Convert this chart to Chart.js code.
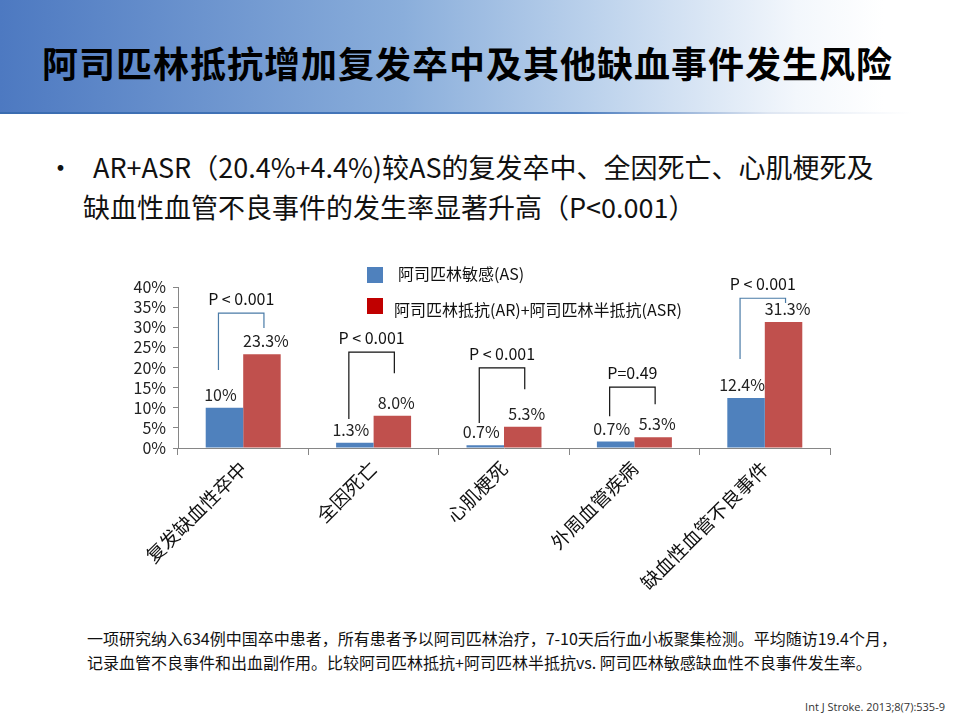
<!DOCTYPE html>
<html>
<head>
<meta charset="utf-8">
<script src="https://cdn.jsdelivr.net/npm/chart.js@4"></script>
<style>
  html, body { margin: 0; padding: 0; background: #fff; }
  body { width: 960px; height: 720px; position: relative; overflow: hidden; font-family: "Noto Sans CJK SC", "Noto Sans", sans-serif; color: #111; }
  .header { position: absolute; left: 0; top: 0; width: 960px; height: 112px;
    background: linear-gradient(to right, #4d79c1 0%, #8aaedb 42%, #bcd2ec 62%, #f3f7fc 83%, #ffffff 92%); }
  .header-line { position: absolute; left: 0; top: 112px; width: 960px; height: 2px;
    background: linear-gradient(to right, #3a6cb0 0%, #4a7bbd 60%, rgba(90,130,190,0.2) 80%, rgba(255,255,255,0) 95%); }
  .title { position: absolute; left: 42px; top: 40px; height: 44px; line-height: 44px; font-size: 36px; font-weight: 700; letter-spacing: 1px; color: #000; white-space: nowrap; }
  .bullet { position: absolute; left: 83px; top: 147px; width: 870px; font-size: 27px; line-height: 40px; color: #111; }
  .bullet .dot { position: absolute; left: -36px; top: 0; }
  .bullet .l1 { padding-left: 10px; white-space: nowrap; }
  .bullet .l2 { white-space: nowrap; }
  .legend { position: absolute; font-size: 16px; color: #111; white-space: nowrap; }
  .legend .sw { position: absolute; width: 16px; height: 16px; }
  .chart-box { position: absolute; left: 100px; top: 270px; width: 740px; height: 350px; }
  .note { position: absolute; left: 87px; top: 626px; font-size: 16px; line-height: 24px; color: #111; white-space: nowrap; }
  .cite { position: absolute; right: 15px; top: 699px; font-size: 11px; line-height: 16px; color: #333; font-family: "Open Sans", "Noto Sans", sans-serif; }
</style>
</head>
<body>
<div class="header"></div>
<div class="header-line"></div>
<div class="title">阿司匹林抵抗增加复发卒中及其他缺血事件发生风险</div>

<div class="bullet">
  <span class="dot">•</span>
  <div class="l1">AR+ASR（20.4%+4.4%)较AS的复发卒中、全因死亡、心肌梗死及</div>
  <div class="l2">缺血性血管不良事件的发生率显著升高（P&lt;0.001）</div>
</div>

<div class="chart-box"><canvas id="riskChart"></canvas></div>

<div class="legend" style="left:367px;top:261px;">
  <span class="sw" style="left:0;top:6px;background:#4f81bd;"></span>
  <span style="position:absolute;left:31px;top:0;line-height:24px;">阿司匹林敏感(AS)</span>
</div>
<div class="legend" style="left:367px;top:297px;">
  <span class="sw" style="left:0;top:1px;background:#c00000;"></span>
  <span style="position:absolute;left:27px;top:0;line-height:24px;">阿司匹林抵抗(AR)+阿司匹林半抵抗(ASR)</span>
</div>

<div class="note">一项研究纳入634例中国卒中患者，所有患者予以阿司匹林治疗，7-10天后行血小板聚集检测。平均随访19.4个月，<br>记录血管不良事件和出血副作用。比较阿司匹林抵抗+阿司匹林半抵抗vs. 阿司匹林敏感缺血性不良事件发生率。</div>
<div class="cite">Int J Stroke. 2013;8(7):535-9</div>

<script>
// categories and bar heights (%)
const categories = ['复发缺血性卒中', '全因死亡', '心肌梗死', '外周血管疾病', '缺血性血管不良事件'];
const asValues = [10, 1.3, 0.7, 1.6, 12.4];
const arValues = [23.3, 8.0, 5.3, 2.7, 31.3];

// printed value labels (as shown on the slide)
const asLabels = ['10%', '1.3%', '0.7%', '0.7%', '12.4%'];
const arLabels = ['23.3%', '8.0%', '5.3%', '5.3%', '31.3%'];

// significance brackets, in % units on the y axis
const pTexts = ['P < 0.001', 'P < 0.001', 'P < 0.001', 'P=0.49', 'P < 0.001'];
const bracketTop = [33.5, 23.8, 19.9, 15.1, 37.2];
const bracketLeftEnd = [19.4, 7.2, 6.2, 7.9, 22.1];
const bracketRightEnd = [29.8, 18.6, 14.6, 10.9, 36.0];

const yTicks = [0, 5, 10, 15, 20, 25, 30, 35, 40];

const AXIS_GRAY = '#868686';
const FONT = '"Noto Sans CJK SC", "Noto Sans", sans-serif';

// value labels + P brackets drawn on top of the bars
const annotatePlugin = {
  id: 'annotate',
  afterDatasetsDraw(chart) {
    const { ctx } = chart;
    const y = chart.scales.y;
    const blue = chart.getDatasetMeta(0).data;
    const red = chart.getDatasetMeta(1).data;
    ctx.save();
    ctx.font = '16px ' + FONT;
    ctx.fillStyle = '#222';
    ctx.textAlign = 'center';
    ctx.textBaseline = 'middle';
    blue.forEach((bar, i) => {
      ctx.fillText(asLabels[i], bar.x - 4, bar.y - 13);
      ctx.fillText(arLabels[i], red[i].x + 4, red[i].y - 13);
    });

    blue.forEach((bar, i) => {
      const xl = bar.x - 6;
      const xr = red[i].x + 2;
      const yt = y.getPixelForValue(bracketTop[i]);
      ctx.strokeStyle = (i === 0 || i === 4) ? '#4a7ba7' : '#111';
      ctx.lineWidth = 1.2;
      ctx.beginPath();
      ctx.moveTo(xl, y.getPixelForValue(bracketLeftEnd[i]));
      ctx.lineTo(xl, yt);
      ctx.lineTo(xr, yt);
      ctx.lineTo(xr, y.getPixelForValue(bracketRightEnd[i]));
      ctx.stroke();
      ctx.fillStyle = '#111';
      ctx.fillText(pTexts[i], (xl + xr) / 2, yt - 14);
    });
    ctx.restore();
  }
};

new Chart(document.getElementById('riskChart'), {
  type: 'bar',
  data: {
    labels: categories,
    datasets: [
      { label: '阿司匹林敏感(AS)', data: asValues, backgroundColor: '#4f81bd', borderWidth: 0, categoryPercentage: 0.575, barPercentage: 1.0 },
      { label: '阿司匹林抵抗(AR)+阿司匹林半抵抗(ASR)', data: arValues, backgroundColor: '#c0504d', borderWidth: 0, categoryPercentage: 0.575, barPercentage: 1.0 }
    ]
  },
  options: {
    responsive: true, maintainAspectRatio: false, animation: false,
    layout: { padding: { top: 17, right: 10, left: 0, bottom: 0 } },
    plugins: { legend: { display: false }, tooltip: { enabled: false } },
    scales: {
      y: {
        min: 0, max: 40,
        afterBuildTicks: s => { s.ticks = yTicks.map(v => ({ value: v })); },
        afterFit: s => { s.width = 78; },
        grid: { drawOnChartArea: false, drawTicks: true, tickLength: 5, color: AXIS_GRAY },
        border: { color: AXIS_GRAY, width: 1 },
        ticks: { autoSkip: false, callback: v => v + '%', color: '#222', padding: 7, font: { family: FONT, size: 16 } }
      },
      x: {
        afterFit: s => { s.height = 172; },
        grid: { offset: true, drawOnChartArea: false, drawTicks: true, tickLength: 7, color: AXIS_GRAY },
        border: { color: AXIS_GRAY, width: 1 },
        ticks: { minRotation: 45, maxRotation: 45, autoSkip: false, color: '#111', padding: 2, font: { family: FONT, size: 19 } }
      }
    }
  },
  plugins: [annotatePlugin]
});
</script>
</body>
</html>
